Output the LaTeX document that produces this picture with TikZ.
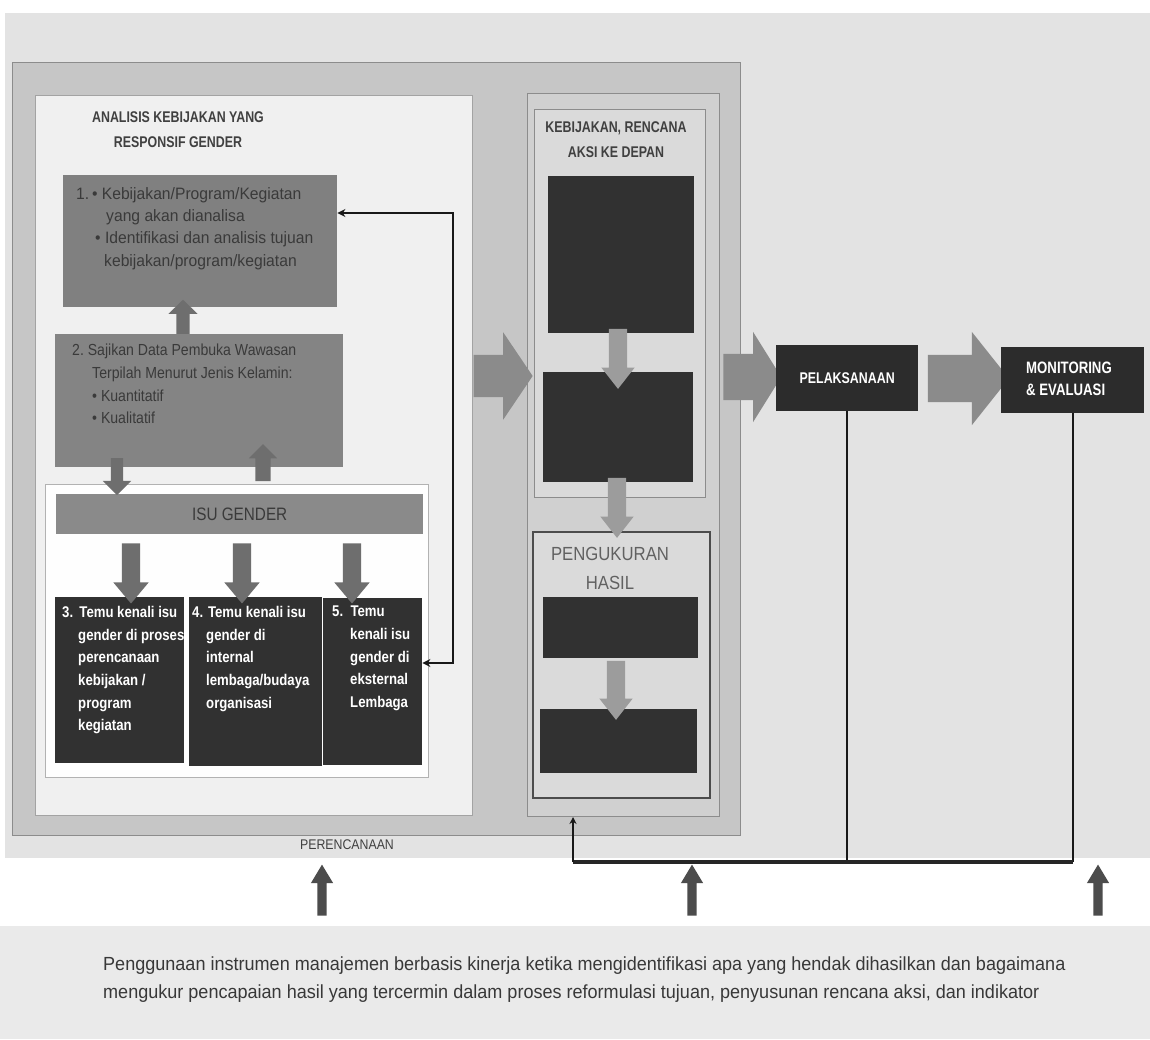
\documentclass[tikz,border=0pt]{standalone}
\usepackage{fontspec}
\setmainfont{Liberation Sans}
\newfontfamily\cf[FakeStretch=0.8]{Liberation Sans}
\newfontfamily\cfm[FakeStretch=0.85]{Liberation Sans}
\newfontfamily\cfk[FakeStretch=0.95]{Liberation Sans}
\newfontfamily\cfn[FakeStretch=0.88]{Liberation Sans}
\newfontfamily\cfw[FakeStretch=0.95]{Liberation Sans}
\usetikzlibrary{shapes.arrows,arrows.meta}
\definecolor{bgmain}{HTML}{E3E3E3}
\definecolor{bgband}{HTML}{EAEAEA}
\definecolor{outerfill}{HTML}{C6C6C6}
\definecolor{framedraw}{HTML}{8C8C8C}
\definecolor{panelfill}{HTML}{F0F0F0}
\definecolor{colfill}{HTML}{D0D0D0}
\definecolor{kebfill}{HTML}{DADADA}
\definecolor{midbox}{HTML}{808080}
\definecolor{midtext}{HTML}{3A3A3A}
\definecolor{darkbox}{HTML}{313131}
\definecolor{blockarrow}{HTML}{8B8B8B}
\definecolor{lightarrow}{HTML}{9C9C9C}
\definecolor{leftarrow}{HTML}{6E6E6E}
\definecolor{botarrow}{HTML}{4C4C4C}
\definecolor{titletext}{HTML}{404040}
\begin{document}
\begin{tikzpicture}[x=1pt,y=-1pt,
  rbox/.style={inner sep=0pt, anchor=north west},
  frame/.style={rbox, draw=framedraw, line width=1.2pt},
  midrect/.style={rbox, fill=midbox},
  darkrect/.style={rbox, fill=darkbox},
  blk/.style={single arrow, inner xsep=0pt, fill=blockarrow, draw=none},
  smallarr/.style={single arrow, draw=none},
  title/.style={font=\cf\bfseries\fontsize{15.5}{25}\selectfont, text=titletext, align=center},
  wtext/.style={font=\cfm\bfseries\fontsize{15.5}{22.7}\selectfont, text=white, align=left, anchor=north west, inner sep=0pt},
  conn/.style={draw=black!90, line width=1.6pt},
  tip/.style={-{Stealth[length=7pt,width=7pt]}}
]
\useasboundingbox (0,0) rectangle (1150,1039);
\fill[white] (0,0) rectangle (1150,1039);
\fill[bgmain] (5,13) rectangle (1150,858);
\fill[bgband] (0,926) rectangle (1150,1039);

% outer frame and panels
\node[frame, fill=outerfill, minimum width=728pt, minimum height=773pt] (outer) at (12,62) {};
\node[rbox, fill=panelfill, draw=framedraw!80, line width=1pt, minimum width=437pt, minimum height=720pt] (lpanel) at (35,95) {};
\node[frame, fill=colfill, line width=1pt, minimum width=192pt, minimum height=723pt] (rcol) at (527,93) {};
\node[frame, fill=kebfill, line width=1pt, minimum width=171pt, minimum height=388pt] (keb) at (534,109) {};
\node[rbox, fill=kebfill, draw=black!70, line width=2.4pt, minimum width=177pt, minimum height=266pt] (pen) at (532,531) {};

% left panel content
\node[title] (t1) at (178,130) {ANALISIS KEBIJAKAN YANG\\RESPONSIF GENDER};
\node[midrect, minimum width=274pt, minimum height=132pt] (box1) at (63,175) {};
\node[midrect, fill=midbox!97!white, minimum width=288pt, minimum height=133pt] (box2) at (55,334) {};
\node[rbox, fill=panelfill!90!black!3, draw=black!30, line width=1pt, minimum width=383pt, minimum height=293pt] (isuf) at (45,484) {};
\node[rbox, fill=midbox!92!white, minimum width=367pt, minimum height=40pt] (isub) at (56,494) {};
\node[font=\cfm\fontsize{18}{20}\selectfont, text=midtext] (isut) at (isub.center) {ISU GENDER};
\node[darkrect, minimum width=129pt, minimum height=166pt] (box3) at (55,597) {};
\node[darkrect, minimum width=133pt, minimum height=169pt] (box4) at (189,597) {};
\node[darkrect, minimum width=99pt, minimum height=167pt] (box5) at (323,598) {};

\node[font=\cfk\fontsize{16.5}{22.3}\selectfont, text=midtext, align=left, anchor=north west, inner sep=0pt] (b1t) at (76,187) {1.\,• Kebijakan/Program/Kegiatan\\
\hspace*{30pt}yang akan dianalisa\\
\hspace*{19pt}• Identifikasi dan analisis tujuan\\
\hspace*{28pt}kebijakan/program/kegiatan};
\node[font=\cfn\fontsize{16}{22.7}\selectfont, text=midtext, align=left, anchor=north west, inner sep=0pt] (b2t) at (72,344) {2.\ Sajikan Data Pembuka Wawasan\\
\hspace*{20pt}Terpilah Menurut Jenis Kelamin:\\
\hspace*{20pt}• Kuantitatif\\
\hspace*{20pt}• Kualitatif};

\node[wtext] (b3t) at (62,606) {3.\ \,Temu kenali isu\\
\hspace*{16pt}gender di proses\\
\hspace*{16pt}perencanaan\\
\hspace*{16pt}kebijakan /\\
\hspace*{16pt}program\\
\hspace*{16pt}kegiatan};
\node[wtext] (b4t) at (192,606) {4. Temu kenali isu\\
\hspace*{14pt}gender di\\
\hspace*{14pt}internal\\
\hspace*{14pt}lembaga/budaya\\
\hspace*{14pt}organisasi};
\node[wtext] (b5t) at (332,606) {5.\ \ Temu\\
\hspace*{18pt}kenali isu\\
\hspace*{18pt}gender di\\
\hspace*{18pt}eksternal\\
\hspace*{18pt}Lembaga};

% left arrows
\node[smallarr, fill=leftarrow, shape border rotate=90, minimum height=34pt, inner sep=6.5pt, single arrow head extend=8pt, single arrow tip angle=92] (a21) at (183,320) {};
\node[smallarr, fill=leftarrow, shape border rotate=270, minimum height=37pt, inner sep=6pt, single arrow head extend=8pt, single arrow tip angle=90] (a2i) at (117,473.5) {};
\node[smallarr, fill=leftarrow, shape border rotate=90, minimum height=37pt, inner sep=7.5pt, single arrow head extend=6.5pt, single arrow tip angle=90] (ai2) at (263,466.5) {};
\foreach \xx/\nm in {131/ia3,242/ia4,352/ia5}{
  \node[smallarr, fill=leftarrow, shape border rotate=270, minimum height=60pt, inner sep=9pt, single arrow head extend=8.5pt, single arrow tip angle=80] (\nm) at (\xx,568) {};
}

% connector box1 <-> box5
\coordinate (ctop) at (453,213);
\coordinate (cbot) at (453,663);
\draw[conn, line width=1.8pt, {Stealth[length=8pt,width=8pt]}-{Stealth[length=8pt,width=8pt]}] (box1.east |- ctop) -- (ctop) -- (cbot) -- (box5.east |- cbot);

% right column
\node[title] (t2) at (616,140) {KEBIJAKAN, RENCANA\\AKSI KE DEPAN};
\node[darkrect, minimum width=146pt, minimum height=157pt] (dA) at (548,176) {};
\node[darkrect, minimum width=150pt, minimum height=110pt] (dB) at (543,372) {};
\node[font=\cfn\fontsize{19}{29}\selectfont, text=black!62, align=center] (t3) at (610,568) {PENGUKURAN\\HASIL};
\node[darkrect, minimum width=155pt, minimum height=61pt] (dC) at (543,597) {};
\node[darkrect, minimum width=157pt, minimum height=64pt] (dD) at (540,709) {};
\node[smallarr, fill=lightarrow, shape border rotate=270, minimum height=60pt, inner sep=9pt, single arrow head extend=7.5pt, single arrow tip angle=76] (aAB) at (618,353) {};
\node[smallarr, fill=lightarrow, shape border rotate=270, minimum height=60pt, inner sep=9pt, single arrow head extend=7.5pt, single arrow tip angle=76] (aBC) at (617,502) {};
\node[smallarr, fill=lightarrow, shape border rotate=270, minimum height=59pt, inner sep=9pt, single arrow head extend=7.5pt, single arrow tip angle=76] (aCD) at (616,684.5) {};

% block arrows and right boxes
\node[blk, minimum height=59pt, inner ysep=21pt, single arrow head extend=22.5pt, single arrow tip angle=112] (ba1) at (496,376) {};
\node[blk, minimum height=58pt, inner ysep=23pt, single arrow head extend=22pt, single arrow tip angle=116] (ba2) at (745,377) {};
\node[blk, minimum height=81pt, inner ysep=23.5pt, single arrow head extend=23pt, single arrow tip angle=103] (ba3) at (959,378.5) {};
\node[darkrect, fill=darkbox!90!black, minimum width=142pt, minimum height=66pt] (pel) at (776,345) {};
\node[darkrect, fill=darkbox!90!black, minimum width=143pt, minimum height=66pt] (mon) at (1001,347) {};
\node[font=\cf\bfseries\fontsize{15.5}{22}\selectfont, text=white] (pelt) at (pel.center) {PELAKSANAAN};
\node[font=\cf\bfseries\fontsize{16.5}{22}\selectfont, text=white, align=left, anchor=west, inner sep=0pt] (mont) at (1026,379) {MONITORING\\\& EVALUASI};

% feedback lines
\coordinate (fb) at (573,862);
\draw[conn] (pel.south) -- (pel.south |- fb);
\draw[conn] (mon.south) -- (mon.south |- fb);
\draw[draw=black!85, line width=3.2pt] (mon.south |- fb) -- (fb);
\draw[conn, tip] (fb) -- (fb |- rcol.south);

\node[font=\cfn\fontsize{14}{16}\selectfont, text=titletext] (per) at (347,845) {PERENCANAAN};

% bottom arrows
\foreach \xx/\nm in {322/u1,692/u2,1098/u3}{
  \node[smallarr, fill=botarrow, shape border rotate=90, minimum height=51pt, inner sep=4.5pt, single arrow head extend=6.5pt, single arrow tip angle=62] (\nm) at (\xx,894) {};
}

\node[font=\cfw\fontsize{19}{28}\selectfont, text=black!78, align=left, anchor=north west, inner sep=0pt] (btext) at (103,957) {Penggunaan instrumen manajemen berbasis kinerja ketika mengidentifikasi apa yang hendak dihasilkan dan bagaimana\\mengukur pencapaian hasil yang tercermin dalam proses reformulasi tujuan, penyusunan rencana aksi, dan indikator};
\end{tikzpicture}
\end{document}
